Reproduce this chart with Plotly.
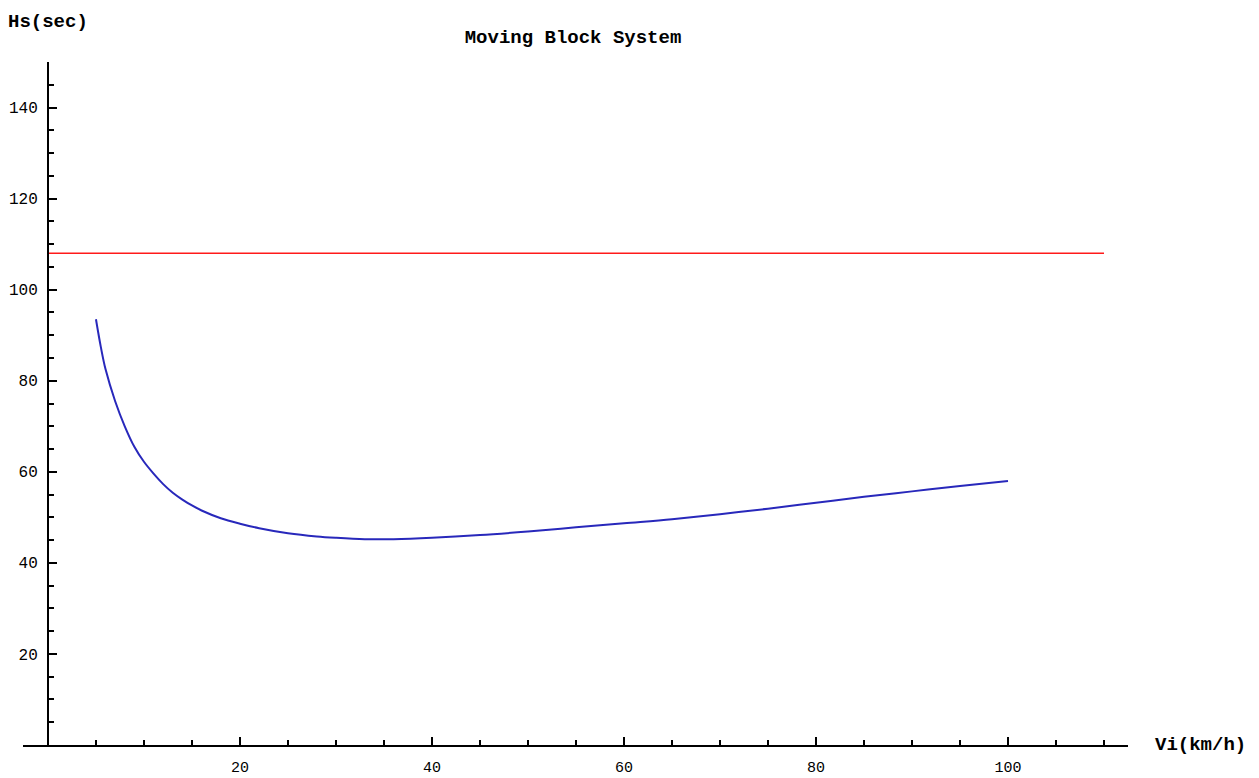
import plotly.graph_objects as go

# Blue curve: headway Hs (sec) vs speed Vi (km/h)
speed = [5, 5.5, 6, 7, 8, 9, 10, 11, 12, 13, 14, 15, 16, 18, 20, 22, 25, 28, 30, 33,
         36, 40, 45, 50, 55, 60, 65, 70, 75, 80, 85, 90, 95, 100]
headway = [93.5, 87.5, 82.5, 75.5, 70.0, 65.5, 62.2, 59.6, 57.3, 55.4, 53.9, 52.6, 51.5,
           49.8, 48.6, 47.6, 46.5, 45.8, 45.5, 45.2, 45.2, 45.5, 46.1, 46.9, 47.8, 48.7,
           49.6, 50.7, 51.9, 53.2, 54.5, 55.7, 56.9, 58.0]

# Red reference line
ref_x = [0, 110]
ref_y = [108, 108]

x_ticks = [20, 40, 60, 80, 100]
y_ticks = [20, 40, 60, 80, 100, 120, 140]

FONT = "Liberation Mono"

fig = go.Figure()
fig.add_trace(go.Scatter(x=ref_x, y=ref_y, mode="lines",
                         line=dict(color="#ff1a1a", width=1.6), showlegend=False))
fig.add_trace(go.Scatter(x=speed, y=headway, mode="lines", line_shape="spline",
                         line=dict(color="#2828bb", width=2), showlegend=False))

x0, x1 = -2.6, 112.5
ypos = (0 - x0) / (x1 - x0)

fig.update_layout(
    width=1259, height=778,
    margin=dict(l=23, r=131, t=62, b=33, autoexpand=False),
    paper_bgcolor="white", plot_bgcolor="white",
    font=dict(family=FONT, size=16, color="black"),
    title=dict(text="<b>Moving Block System</b>", x=573 / 1259, xanchor="center",
               y=1 - 36 / 778, yanchor="middle",
               font=dict(family=FONT, size=19, color="black")),
    xaxis=dict(range=[x0, x1], tickmode="array", tickvals=x_ticks,
               ticks="inside", ticklen=8, tickwidth=2, tickcolor="black",
               showline=True, linecolor="black", linewidth=2,
               showgrid=False, zeroline=False, ticklabelstandoff=7, automargin=False,
               tickfont=dict(family=FONT, size=15),
               minor=dict(tickmode="linear", tick0=0, dtick=5, ticks="inside",
                          ticklen=5, tickwidth=2, tickcolor="black", showgrid=False)),
    yaxis=dict(range=[0, 150], tickmode="array", tickvals=y_ticks,
               anchor="free", position=ypos,
               ticks="inside", ticklen=8, tickwidth=2, tickcolor="black",
               showline=True, linecolor="black", linewidth=2,
               showgrid=False, zeroline=False, ticklabelstandoff=6, automargin=False,
               tickfont=dict(family=FONT, size=16),
               minor=dict(tickmode="linear", tick0=0, dtick=5, ticks="inside",
                          ticklen=5, tickwidth=2, tickcolor="black", showgrid=False)),
    annotations=[
        dict(text="<b>Hs(sec)</b>", xref="paper", yref="paper",
             x=-23 / 1105 + 6 / 1105, y=1 + (62 - 22) / 683, xanchor="left",
             yanchor="middle", showarrow=False, font=dict(family=FONT, size=19)),
        dict(text="<b>Vi(km/h)</b>", xref="paper", yref="paper",
             x=(1153 - 23) / 1105, y=0, xanchor="left", yanchor="middle",
             showarrow=False, font=dict(family=FONT, size=19)),
    ],
)

fig.write_html("out.html")
